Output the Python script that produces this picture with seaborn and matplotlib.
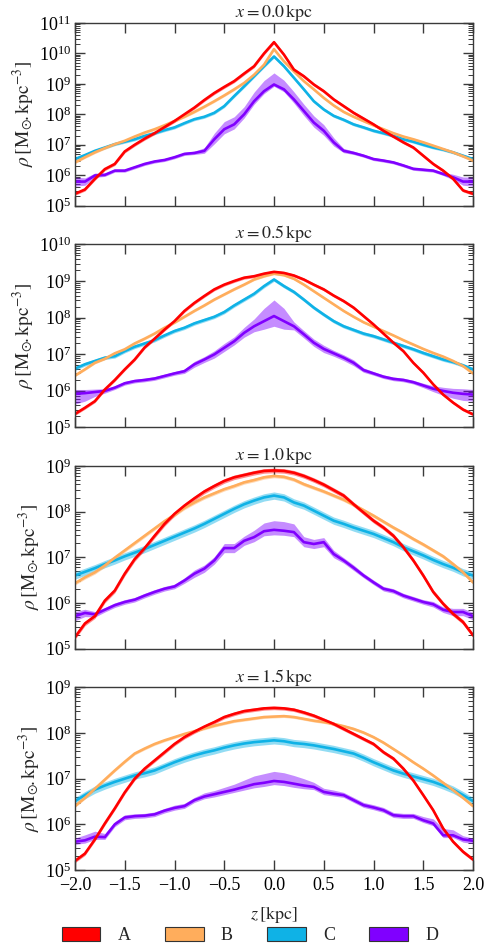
"""
Vertical density profiles rho(z) at four galactocentric distances x,
for four models A-D, with their spread shown as shaded bands.
"""
import numpy as np
import pandas as pd
import matplotlib
matplotlib.use("Agg")
from matplotlib import pyplot as plt
from matplotlib.patches import Patch
from matplotlib.ticker import LogLocator, MultipleLocator, NullFormatter
import seaborn as sns

# Sampling grid in z [kpc]
z = np.round(np.linspace(-2.0, 2.0, 41), 1)

models = ["A", "B", "C", "D"]
colors = {"A": "#ff0000", "B": "#ffad5c", "C": "#0fb2e6", "D": "#8000ff"}
panel_x = ["0.0", "0.5", "1.0", "1.5"]
panel_ytop = [11, 10, 9, 9]

# log10(rho), panel x = 0.0 kpc
a0 = [5.39, 5.53, 5.88, 6.20, 6.37, 6.78, 7.00, 7.20, 7.38, 7.58, 7.78, 8.00, 8.22, 8.47, 8.70, 8.90, 9.09, 9.34, 9.58, 10.00,
      10.37,
      9.96, 9.47, 9.25, 8.98, 8.76, 8.49, 8.27, 8.05, 7.86, 7.67, 7.46, 7.27, 7.08, 6.91, 6.64, 6.37, 6.15, 5.88, 5.50, 5.39]
b0 = [6.42, 6.59, 6.75, 6.89, 7.02, 7.13, 7.27, 7.40, 7.51, 7.64, 7.78, 7.92, 8.08, 8.25, 8.43, 8.62, 8.82, 9.03, 9.30, 9.63,
      10.14,
      9.74, 9.41, 9.09, 8.82, 8.54, 8.29, 8.08, 7.92, 7.78, 7.64, 7.51, 7.38, 7.27, 7.18, 7.08, 6.97, 6.86, 6.75, 6.62, 6.48]
c0 = [6.53, 6.66, 6.80, 6.91, 7.02, 7.10, 7.18, 7.29, 7.38, 7.48, 7.57, 7.71, 7.84, 7.92, 8.05, 8.27, 8.60, 8.92, 9.25, 9.58,
      9.90,
      9.58, 9.20, 8.82, 8.43, 8.16, 7.95, 7.82, 7.67, 7.57, 7.46, 7.38, 7.29, 7.18, 7.10, 7.00, 6.91, 6.84, 6.75, 6.64, 6.53]
d0 = [5.79, 5.79, 5.99, 6.01, 6.15, 6.15, 6.26, 6.37, 6.45, 6.50, 6.59, 6.70, 6.73, 6.80, 7.18, 7.51, 7.67, 8.00, 8.43, 8.76,
      8.98,
      8.82, 8.49, 8.11, 7.73, 7.46, 7.08, 6.80, 6.73, 6.64, 6.53, 6.48, 6.42, 6.32, 6.21, 6.18, 6.15, 6.04, 5.93, 5.79, 5.79]
d0_up = [0.15, 0.12, 0.08, 0.06, 0.05, 0.05, 0.05, 0.05, 0.05, 0.05, 0.05, 0.05, 0.06, 0.10, 0.20, 0.25, 0.25, 0.25, 0.30, 0.35,
         0.38,
         0.30, 0.25, 0.22, 0.22, 0.20, 0.15, 0.08, 0.06, 0.05, 0.05, 0.05, 0.05, 0.05, 0.05, 0.05, 0.05, 0.06, 0.10, 0.15, 0.15]
d0_dn = [0.15, 0.12, 0.06, 0.05, 0.05, 0.05, 0.05, 0.05, 0.05, 0.05, 0.05, 0.05, 0.05, 0.08, 0.15, 0.15, 0.15, 0.12, 0.10, 0.08,
         0.06,
         0.08, 0.12, 0.15, 0.15, 0.15, 0.12, 0.06, 0.05, 0.05, 0.05, 0.05, 0.05, 0.05, 0.05, 0.05, 0.05, 0.05, 0.08, 0.12, 0.15]

# panel x = 0.5 kpc
a1 = [5.36, 5.53, 5.71, 6.03, 6.29, 6.58, 6.85, 7.18, 7.42, 7.67, 7.90, 8.18, 8.40, 8.59, 8.77, 8.90, 9.00, 9.09, 9.13, 9.20,
      9.25,
      9.22, 9.15, 9.04, 8.90, 8.77, 8.60, 8.45, 8.27, 8.04, 7.81, 7.56, 7.31, 7.08, 6.76, 6.49, 6.17, 5.89, 5.67, 5.48, 5.35]
b1 = [6.41, 6.58, 6.76, 6.87, 7.02, 7.13, 7.29, 7.42, 7.56, 7.72, 7.86, 8.02, 8.18, 8.33, 8.49, 8.63, 8.77, 8.90, 9.04, 9.13,
      9.20,
      9.16, 9.06, 8.90, 8.72, 8.54, 8.36, 8.18, 8.02, 7.87, 7.75, 7.63, 7.51, 7.38, 7.26, 7.14, 7.03, 6.93, 6.81, 6.67, 6.47]
c1 = [6.60, 6.72, 6.81, 6.90, 6.94, 7.08, 7.20, 7.29, 7.38, 7.51, 7.63, 7.72, 7.84, 7.93, 8.02, 8.15, 8.33, 8.49, 8.65, 8.86,
      9.04,
      8.86, 8.70, 8.49, 8.27, 8.08, 7.90, 7.76, 7.66, 7.56, 7.49, 7.40, 7.31, 7.22, 7.13, 7.03, 6.94, 6.85, 6.78, 6.69, 6.58]
d1 = [5.91, 5.93, 5.96, 5.99, 6.08, 6.20, 6.26, 6.29, 6.33, 6.40, 6.47, 6.53, 6.72, 6.85, 6.99, 7.17, 7.35, 7.58, 7.76, 7.90,
      8.04,
      7.90, 7.76, 7.54, 7.31, 7.14, 7.02, 6.90, 6.76, 6.56, 6.47, 6.38, 6.32, 6.29, 6.23, 6.14, 6.05, 5.99, 5.94, 5.91, 5.89]
d1_up = [0.12, 0.10, 0.08, 0.06, 0.05, 0.05, 0.05, 0.05, 0.05, 0.05, 0.05, 0.06, 0.08, 0.08, 0.10, 0.12, 0.12, 0.15, 0.20, 0.35,
         0.44,
         0.35, 0.12, 0.10, 0.10, 0.10, 0.08, 0.08, 0.08, 0.06, 0.05, 0.05, 0.05, 0.05, 0.05, 0.06, 0.08, 0.10, 0.12, 0.14, 0.14]
d1_dn = [0.28, 0.22, 0.12, 0.06, 0.05, 0.05, 0.05, 0.05, 0.05, 0.05, 0.05, 0.06, 0.08, 0.08, 0.10, 0.10, 0.10, 0.12, 0.15, 0.22,
         0.28,
         0.22, 0.10, 0.10, 0.10, 0.10, 0.08, 0.08, 0.08, 0.06, 0.05, 0.05, 0.05, 0.05, 0.05, 0.06, 0.08, 0.12, 0.15, 0.18, 0.18]

# panel x = 1.0 kpc
a2 = [5.25, 5.55, 5.71, 6.05, 6.27, 6.64, 6.96, 7.20, 7.47, 7.73, 7.95, 8.13, 8.29, 8.44, 8.56, 8.67, 8.75, 8.80, 8.85, 8.89,
      8.90,
      8.89, 8.85, 8.78, 8.69, 8.59, 8.47, 8.35, 8.16, 7.98, 7.80, 7.65, 7.47, 7.22, 6.93, 6.60, 6.24, 5.98, 5.76, 5.58, 5.29]
b2 = [6.43, 6.56, 6.67, 6.82, 6.99, 7.15, 7.31, 7.47, 7.63, 7.79, 7.93, 8.08, 8.20, 8.31, 8.40, 8.49, 8.56, 8.64, 8.69, 8.75,
      8.78,
      8.76, 8.70, 8.60, 8.52, 8.44, 8.35, 8.26, 8.15, 8.03, 7.91, 7.78, 7.65, 7.53, 7.40, 7.28, 7.15, 7.02, 6.85, 6.67, 6.45]
c2 = [6.60, 6.68, 6.76, 6.85, 6.93, 7.02, 7.10, 7.18, 7.27, 7.36, 7.45, 7.54, 7.63, 7.73, 7.84, 7.95, 8.06, 8.16, 8.24, 8.31,
      8.35,
      8.31, 8.20, 8.13, 8.02, 7.91, 7.80, 7.73, 7.65, 7.58, 7.51, 7.42, 7.33, 7.22, 7.13, 7.04, 6.94, 6.85, 6.77, 6.67, 6.60]
d2 = [5.71, 5.78, 5.75, 5.85, 5.95, 6.02, 6.07, 6.16, 6.24, 6.31, 6.36, 6.49, 6.64, 6.75, 6.93, 7.20, 7.20, 7.36, 7.44, 7.57,
      7.60,
      7.58, 7.55, 7.33, 7.29, 7.33, 7.07, 6.93, 6.77, 6.60, 6.45, 6.31, 6.26, 6.16, 6.09, 6.02, 5.97, 5.85, 5.80, 5.80, 5.71]
d2_up = [0.10, 0.08, 0.06, 0.05, 0.05, 0.05, 0.05, 0.05, 0.05, 0.05, 0.05, 0.06, 0.08, 0.08, 0.08, 0.10, 0.10, 0.10, 0.15, 0.18,
         0.20,
         0.20, 0.18, 0.12, 0.10, 0.10, 0.08, 0.06, 0.06, 0.05, 0.05, 0.05, 0.05, 0.05, 0.05, 0.05, 0.06, 0.06, 0.08, 0.08, 0.08]
d2_dn = [0.10, 0.08, 0.06, 0.05, 0.05, 0.05, 0.05, 0.05, 0.05, 0.05, 0.05, 0.06, 0.08, 0.08, 0.08, 0.10, 0.10, 0.10, 0.10, 0.10,
         0.11,
         0.10, 0.10, 0.10, 0.10, 0.10, 0.08, 0.06, 0.06, 0.05, 0.05, 0.05, 0.05, 0.05, 0.05, 0.05, 0.06, 0.06, 0.08, 0.08, 0.08]

# panel x = 1.5 kpc
a3 = [5.20, 5.36, 5.67, 6.02, 6.35, 6.70, 7.00, 7.22, 7.40, 7.58, 7.76, 7.91, 8.03, 8.14, 8.24, 8.35, 8.42, 8.48, 8.51, 8.54,
      8.55,
      8.54, 8.51, 8.45, 8.38, 8.29, 8.20, 8.09, 7.98, 7.87, 7.76, 7.58, 7.44, 7.22, 6.96, 6.64, 6.31, 5.91, 5.62, 5.40, 5.23]
b3 = [6.40, 6.58, 6.78, 6.98, 7.18, 7.37, 7.55, 7.66, 7.76, 7.84, 7.91, 7.98, 8.04, 8.10, 8.16, 8.21, 8.26, 8.29, 8.32, 8.35,
      8.36,
      8.37, 8.35, 8.31, 8.27, 8.24, 8.20, 8.15, 8.09, 8.01, 7.91, 7.79, 7.65, 7.51, 7.36, 7.22, 7.07, 6.91, 6.75, 6.58, 6.40]
c3 = [6.51, 6.64, 6.76, 6.85, 6.93, 7.00, 7.07, 7.12, 7.18, 7.27, 7.36, 7.44, 7.51, 7.57, 7.62, 7.68, 7.73, 7.77, 7.80, 7.82,
      7.84,
      7.82, 7.78, 7.76, 7.73, 7.69, 7.65, 7.60, 7.55, 7.46, 7.36, 7.27, 7.18, 7.11, 7.05, 6.99, 6.93, 6.85, 6.76, 6.64, 6.51]
d3 = [5.62, 5.65, 5.73, 5.72, 6.00, 6.15, 6.18, 6.19, 6.22, 6.30, 6.36, 6.40, 6.53, 6.61, 6.66, 6.71, 6.76, 6.82, 6.88, 6.91,
      6.95,
      6.93, 6.89, 6.85, 6.82, 6.71, 6.67, 6.64, 6.53, 6.42, 6.37, 6.31, 6.20, 6.18, 6.18, 6.09, 6.02, 5.76, 5.76, 5.67, 5.64]
d3_up = [0.08, 0.12, 0.12, 0.08, 0.06, 0.06, 0.05, 0.05, 0.05, 0.05, 0.06, 0.06, 0.06, 0.08, 0.08, 0.10, 0.12, 0.15, 0.18, 0.20,
         0.21,
         0.20, 0.18, 0.15, 0.10, 0.08, 0.08, 0.06, 0.06, 0.06, 0.06, 0.06, 0.06, 0.06, 0.06, 0.08, 0.10, 0.15, 0.12, 0.08, 0.06]
d3_dn = [0.06, 0.06, 0.06, 0.05, 0.05, 0.05, 0.05, 0.05, 0.05, 0.05, 0.05, 0.05, 0.05, 0.05, 0.06, 0.06, 0.06, 0.07, 0.08, 0.08,
         0.08,
         0.08, 0.08, 0.07, 0.06, 0.06, 0.05, 0.05, 0.05, 0.05, 0.05, 0.05, 0.05, 0.05, 0.05, 0.05, 0.05, 0.05, 0.05, 0.06, 0.06]

# half-width (dex) of the thin bands around A, B, C in each panel
a_spread = [0.05, 0.04, 0.05, 0.04]
b_spread = [0.04, 0.03, 0.04, 0.03]
c_spread = [0.05, 0.05, 0.08, 0.08]

lines = [
    {"A": a0, "B": b0, "C": c0, "D": d0},
    {"A": a1, "B": b1, "C": c1, "D": d1},
    {"A": a2, "B": b2, "C": c2, "D": d2},
    {"A": a3, "B": b3, "C": c3, "D": d3},
]
d_bands = [(d0_dn, d0_up), (d1_dn, d1_up), (d2_dn, d2_up), (d3_dn, d3_up)]

sns.set_style("ticks")
plt.rcParams.update({
    "font.family": ["Liberation Serif", "DejaVu Serif"],
    "mathtext.fontset": "stix",
    "axes.edgecolor": "#3a3a3a",
    "axes.linewidth": 1.0,
    "xtick.color": "#3a3a3a",
    "ytick.color": "#3a3a3a",
    "xtick.labelcolor": "black",
    "ytick.labelcolor": "black",
    "axes.unicode_minus": True,
})

fig, axes = plt.subplots(
    nrows=4,
    ncols=1,
    figsize=(5, 9.5),
    dpi=100,
    sharex=True,
    gridspec_kw=dict(left=0.15, right=0.946, top=0.9758, bottom=0.0842, hspace=0.2125),
)

for i, ax in enumerate(axes):
    ax.set_yscale("log")

    # long-form table for seaborn
    frames = []
    for m in models:
        frames.append(pd.DataFrame({"z": z, "rho": 10.0 ** np.array(lines[i][m]), "model": m}))
    df = pd.concat(frames, ignore_index=True)

    # shaded bands
    spreads = {"A": a_spread[i], "B": b_spread[i], "C": c_spread[i]}
    for m in ["D", "C", "B", "A"]:
        v = np.array(lines[i][m])
        if m == "D":
            dn, up = np.array(d_bands[i][0]), np.array(d_bands[i][1])
        else:
            dn = up = spreads[m]
        ax.fill_between(z, 10 ** (v - dn), 10 ** (v + up), color=colors[m], alpha=0.45, lw=0, zorder=1)

    sns.lineplot(
        data=df,
        x="z",
        y="rho",
        hue="model",
        hue_order=["D", "C", "B", "A"],
        palette=colors,
        linewidth=1.9,
        errorbar=None,
        legend=False,
        ax=ax,
    )

    # axes formatting
    ax.set_xlim(-2, 2)
    ax.set_ylim(1e5, 10 ** panel_ytop[i])
    ax.xaxis.set_major_locator(MultipleLocator(0.5))
    ax.yaxis.set_major_locator(LogLocator(base=10, numticks=20))
    ax.yaxis.set_minor_locator(LogLocator(base=10, subs=np.arange(2, 10), numticks=20))
    ax.yaxis.set_minor_formatter(NullFormatter())
    ax.tick_params(which="both", direction="in", top=True, right=True, labelsize=13)
    ax.tick_params(which="major", length=7, width=1)
    ax.tick_params(which="minor", length=3.5, width=0.7)
    ax.tick_params(axis="x", which="minor", bottom=False, top=False)
    ax.tick_params(axis="y", pad=3)
    ax.tick_params(axis="x", pad=5)
    ax.set_xlabel("")
    ax.set_ylabel(r"$\rho\,[\mathrm{M}_{\odot}\!.\mathrm{kpc}^{-3}]$", fontsize=14, labelpad=2)
    ax.set_title(r"$x = %s\,\mathrm{kpc}$" % panel_x[i], fontsize=13, pad=4)

axes[-1].set_xlabel(r"$z\,[\mathrm{kpc}]$", fontsize=13, labelpad=7)

# legend along the bottom
handles = [Patch(facecolor=colors[m], edgecolor="#333333", linewidth=0.8, label=m) for m in models]
fig.legend(
    handles=handles,
    loc="lower center",
    bbox_to_anchor=(0.5, 0.004),
    ncol=4,
    frameon=False,
    fontsize=13,
    handlelength=2.15,
    handleheight=0.8,
    handletextpad=0.95,
    columnspacing=1.9,
    borderpad=0.1,
    borderaxespad=0.0,
)

plt.savefig("out.png", dpi=100)
